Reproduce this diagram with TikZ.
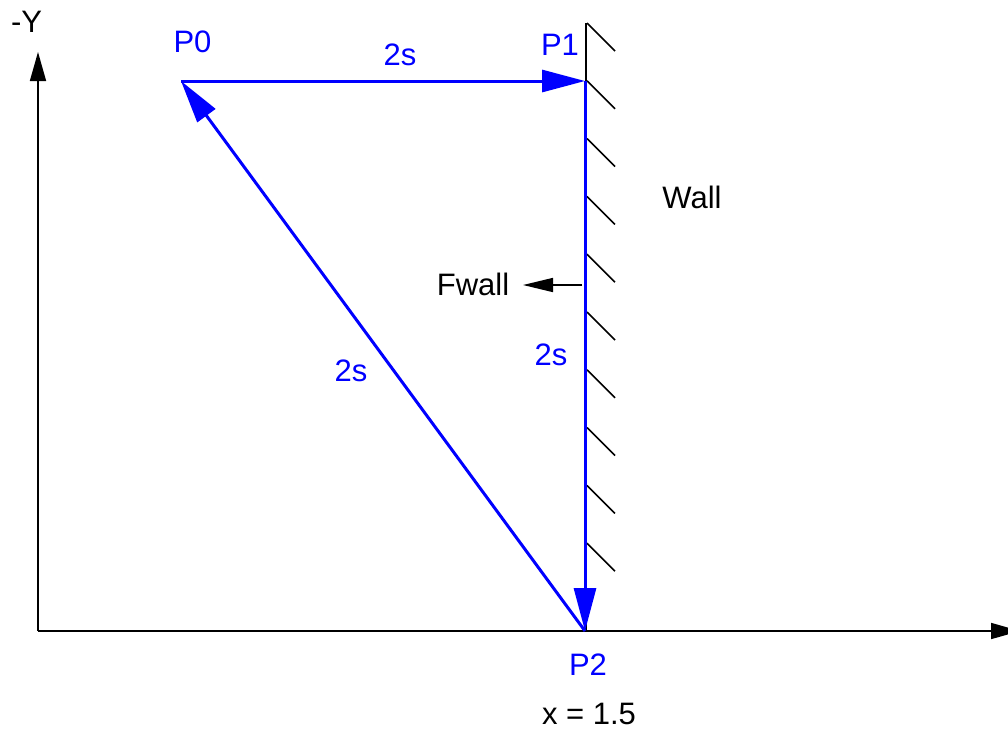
\documentclass[tikz,border=0pt]{standalone}
\usepackage{fontspec}
\setmainfont{Liberation Sans}
\usetikzlibrary{arrows.meta}
\definecolor{vblue}{RGB}{0,0,255}
\tikzset{
  lbl/.style={anchor=base,inner sep=0pt,font=\fontsize{31}{35}\selectfont},
  bluelbl/.style={lbl,text=vblue},
  vec/.style={draw=vblue,line width=3pt,-{Triangle[length=43pt,width=22pt]}},
  axis/.style={draw=black,line width=1.6pt,-{Triangle[length=29pt,width=16pt]}},
  hatch/.style={draw=black,line width=1.6pt},
  force/.style={draw=black,line width=1.6pt,-{Triangle[length=30pt,width=14pt]}}
}
\begin{document}
\begin{tikzpicture}[x=1pt,y=-1pt]
\useasboundingbox (0,0) rectangle (1008,729);
% coordinates
\coordinate (O) at (38,631);
\coordinate (Ytip) at (38,52);
\coordinate (Xtip) at (1020,631);
\coordinate (P0) at (181,81);
\coordinate (P1) at (585,81);
\coordinate (P2) at (585,631);
\coordinate (WallTop) at (586,23);
\coordinate (WallBot) at (586,631);
\coordinate (Fs) at (582,285);
\coordinate (Fe) at (523,285);
% axes
\draw[axis] (O) -- (Ytip);
\draw[axis] (O) -- (Xtip);
% wall
\draw[hatch] (WallTop) -- (WallBot);
\foreach \i in {0,...,9}{
  \draw[hatch] (587,23+57.8*\i) -- ++(28,28);
}
% vectors
\draw[vec] (P0) -- (P1);
\draw[vec] (P1) -- (P2);
\draw[vec] (P2) -- (P0);
% force
\draw[force] (Fs) -- (Fe);
% labels
\node[lbl] (ly) at (26.5,32) {-Y};
\node[bluelbl] (lp0) at (192.5,52) {P0};
\node[bluelbl] (lp1) at (560,55) {P1};
\node[bluelbl] (lp2) at (588,675) {P2};
\node[bluelbl] (s1) at (400,65) {2s};
\node[bluelbl] (s2) at (551,365) {2s};
\node[bluelbl] (s3) at (351,381) {2s};
\node[lbl] (wall) at (692,208) {Wall};
\node[lbl] (fwall) at (473,295) {Fwall};
\node[lbl] (xval) at (589,724) {x = 1.5};
\end{tikzpicture}
\end{document}
